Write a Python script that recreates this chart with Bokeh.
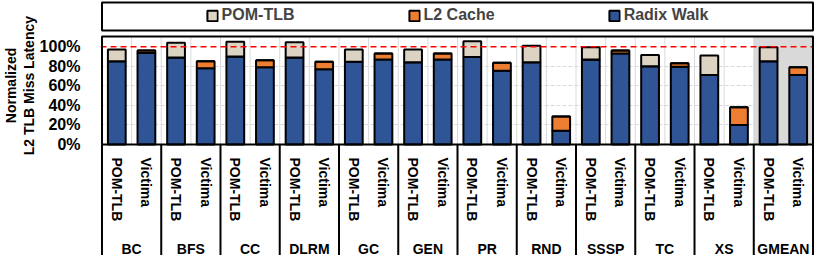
import math
from bokeh.plotting import figure
from bokeh.models import (ColumnDataSource, Range1d, FixedTicker, PrintfTickFormatter,
                          Span, BoxAnnotation, Legend, LegendItem, Title)
from bokeh.core.properties import value
from bokeh.embed import file_html
from bokeh.resources import INLINE

# ---------------- data ----------------
groups = ["BC", "BFS", "CC", "DLRM", "GC", "GEN", "PR", "RND", "SSSP", "TC", "XS", "GMEAN"]
methods = ["POM-TLB", "Victima"]
series_names = ["POM-TLB", "L2 Cache", "Radix Walk"]
y_ticks = [0, 20, 40, 60, 80, 100]
y_label_lines = ["Normalized", "L2 TLB Miss Latency"]

pomtlb_radix = [85, 89, 90, 89, 84.5, 84, 89.5, 84, 87, 80, 71, 85]
pomtlb_pom = [12, 15, 15, 15.5, 12.5, 13, 16, 17, 12.5, 11.5, 20, 14.5]
victima_radix = [93.5, 78, 79, 77, 87, 87, 75.5, 14, 93, 79.5, 20, 71]
victima_l2 = [2.5, 7, 7, 7.5, 6, 6, 8, 14.5, 3, 3.5, 18, 8]

# ---------------- style / layout ----------------
FONT = "Liberation Sans"
C_RADIX = "#2f5597"
C_L2 = "#ed7d31"
C_POM = "#dcd3c3"
GRID = "#d9d9d9"

W, H = 814, 255
LEFT = 96
YMAX = 110.4
FR_TOP, PLOT_TOP, PLOT_BOT, FR_BOT = 0, 36, 144, H
ppu = (PLOT_BOT - PLOT_TOP) / YMAX
y_end = (PLOT_BOT - FR_TOP) / ppu
y_start = -(FR_BOT - PLOT_BOT) / ppu

n_bars = len(groups) * len(methods)
X0, X1 = -0.05, n_bars + 0.05

xs, radix, l2, pom = [], [], [], []
for g in range(len(groups)):
    for m in range(len(methods)):
        xs.append(g * len(methods) + m + 0.5)
        if m == 0:
            radix.append(pomtlb_radix[g]); l2.append(0); pom.append(pomtlb_pom[g])
        else:
            radix.append(victima_radix[g]); l2.append(victima_l2[g]); pom.append(0)

src = ColumnDataSource(dict(x=xs, radix=radix, l2=l2, pom=pom))

p = figure(width=W, height=H, output_backend="svg", toolbar_location=None,
           x_range=Range1d(X0, X1), y_range=Range1d(y_start, y_end),
           x_axis_location=None, title=None,
           min_border_left=LEFT, min_border_right=0, min_border_top=0, min_border_bottom=0)
p.outline_line_color = None
p.background_fill_color = "white"
p.border_fill_color = "white"
p.xgrid.visible = False
p.ygrid.ticker = FixedTicker(ticks=y_ticks[1:-1])
p.ygrid.grid_line_color = GRID
p.ygrid.grid_line_dash = "4 2"
p.ygrid.grid_line_width = 1

ax = p.yaxis[0]
ax.ticker = FixedTicker(ticks=y_ticks)
ax.formatter = PrintfTickFormatter(format="%d%%")
ax.axis_line_color = None
ax.major_tick_line_color = None
ax.minor_tick_line_color = None
ax.major_tick_out = 0
ax.major_tick_in = 0
ax.minor_tick_out = 0
ax.minor_tick_in = 0
ax.major_label_standoff = 20
ax.major_label_text_font = FONT
ax.major_label_text_font_size = "16px"
ax.major_label_text_font_style = "bold"
ax.major_label_text_color = "black"

# y-axis title: two lines, each a left-side Title, centred near y = 85px
center_px = 85
est_len = [75.5, 139]  # approx text lengths (px) of the two lines, 14px bold
for txt, ln in zip(reversed(y_label_lines), reversed(est_len)):
    p.add_layout(Title(text=txt, align="right", offset=center_px - ln / 2, standoff=0,
                       text_font=FONT, text_font_size="14px", text_font_style="bold",
                       text_color="black"), "left")

# GMEAN shade
last = len(groups) - 1
p.quad(left=[last * 2], right=[last * 2 + 2], bottom=[0], top=[YMAX],
       fill_color=GRID, line_color=None)

# light vertical gridlines between bars
vx = list(range(1, n_bars))
p.segment(x0=vx, y0=[0] * len(vx), x1=vx, y1=[YMAX] * len(vx), line_color=GRID, line_width=1)

# bars
rs = p.vbar_stack(["radix", "l2", "pom"], x="x", width=0.6, source=src,
                  fill_color=[C_RADIX, C_L2, C_POM], line_color="black", line_width=2)

# 100% reference line
p.add_layout(Span(location=100, dimension="width", line_color="red",
                  line_dash="6 4", line_width=1.5))

# plot box
p.add_layout(BoxAnnotation(left=0, right=n_bars, bottom=0, top=YMAX, fill_alpha=0,
                           line_color="black", line_width=2, line_alpha=1))

# legend box
leg_top = (PLOT_BOT - 2) / ppu
leg_bot = (PLOT_BOT - 30) / ppu
p.add_layout(BoxAnnotation(left=0, right=n_bars, bottom=leg_bot, top=leg_top, fill_alpha=0,
                           line_color="black", line_width=2, line_alpha=1))

legend = Legend(items=[LegendItem(label=series_names[0], renderers=[rs[2]]),
                       LegendItem(label=series_names[1], renderers=[rs[1]]),
                       LegendItem(label=series_names[2], renderers=[rs[0]])],
                orientation="horizontal", location="top_center", margin=0, padding=6,
                spacing=113, glyph_width=13, glyph_height=13, label_standoff=3,
                label_text_font=FONT, label_text_font_size="16px",
                label_text_font_style="bold",
                border_line_alpha=0, background_fill_alpha=0)
p.add_layout(legend)

# category separators below
sx = list(range(0, n_bars + 1, len(methods)))
p.segment(x0=sx, y0=[y_start] * len(sx), x1=sx, y1=[0] * len(sx),
          line_color="black", line_width=2)

# method labels (rotated)
mlabels = [methods[i % len(methods)] for i in range(n_bars)]
p.text(x=xs, y=[-13 / ppu] * n_bars, text=mlabels, angle=-math.pi / 2,
       text_align="left", text_baseline="middle", text_font=value(FONT),
       text_font_size="14px", text_font_style="bold", text_color="black")

# group labels
gx = [g * len(methods) + len(methods) / 2 for g in range(len(groups))]
p.text(x=gx, y=[-104 / ppu] * len(groups), text=groups, text_align="center",
       text_baseline="middle", text_font=value(FONT), text_font_size="14px",
       text_font_style="bold", text_color="black")

open("out.html", "w").write(file_html(p, INLINE))
